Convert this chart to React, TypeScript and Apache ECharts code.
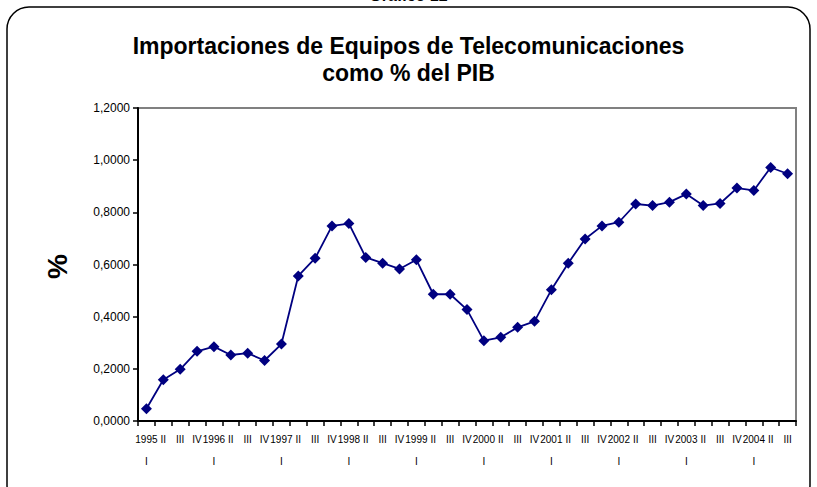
import React, { useEffect, useRef } from "react";
import * as echarts from "echarts";

const years = ["1995", "1996", "1997", "1998", "1999", "2000", "2001", "2002", "2003", "2004"];
const quarters = ["I", "II", "III", "IV"];
const categories: string[] = [];
years.forEach((y) => {
  quarters.forEach((q) => {
    if (y === "2004" && q === "IV") return;
    categories.push(q === "I" ? `${y}\nI` : q);
  });
});

const values = [
  0.047, 0.158, 0.198, 0.267,
  0.285, 0.253, 0.260, 0.232,
  0.295, 0.556, 0.624, 0.748,
  0.757, 0.627, 0.605, 0.583,
  0.618, 0.486, 0.486, 0.427,
  0.308, 0.321, 0.359, 0.382,
  0.503, 0.605, 0.698, 0.748,
  0.762, 0.832, 0.826, 0.839,
  0.870, 0.826, 0.834, 0.893,
  0.884, 0.972, 0.948,
];

const FONT = "'Liberation Sans', Arial, sans-serif";

export default function App() {
  const ref = useRef<HTMLDivElement>(null);
  useEffect(() => {
    if (!ref.current) return;
    const chart = echarts.init(ref.current, null, { renderer: "svg" });
    chart.setOption({
      animation: false,
      backgroundColor: "#ffffff",
      title: {
        text: "Importaciones de Equipos de Telecomunicaciones\ncomo % del PIB",
        left: "center",
        top: 27,
        textStyle: {
          fontFamily: FONT,
          fontWeight: "bold",
          fontSize: 23,
          lineHeight: 27,
          color: "#000",
        },
      },
      graphic: [
        {
          type: "rect",
          shape: { x: 7, y: 7, width: 803, height: 500, r: 22 },
          style: { fill: "none", stroke: "#000", lineWidth: 1.5 },
          z: 0,
        },
        {
          type: "text",
          left: "center",
          top: -13,
          style: {
            text: "Gráfico 12",
            font: `bold 16px ${FONT}`,
            fill: "#000",
          },
        },
        {
          type: "text",
          x: 43,
          y: 279,
          rotation: Math.PI / 2,
          style: {
            text: "%",
            font: `bold 28px ${FONT}`,
            fill: "#000",
          },
        },
      ],
      grid: {
        left: 138,
        right: 21,
        top: 108,
        bottom: 66,
        show: true,
        borderColor: "#808080",
        borderWidth: 2,
        backgroundColor: "#ffffff",
      },
      xAxis: {
        type: "category",
        data: categories,
        boundaryGap: true,
        axisLine: { lineStyle: { color: "#000", width: 2 } },
        axisTick: { show: true, length: 5, lineStyle: { color: "#000", width: 1.5 } },
        axisLabel: {
          interval: 0,
          color: "#000",
          fontFamily: FONT,
          fontSize: 10,
          lineHeight: 22,
          margin: 7,
          hideOverlap: false,
        },
        splitLine: { show: false },
      },
      yAxis: {
        type: "value",
        min: 0,
        max: 1.2,
        interval: 0.2,
        axisLine: { show: true, lineStyle: { color: "#000", width: 2 } },
        axisTick: { show: true, length: 5, lineStyle: { color: "#000", width: 1.5 } },
        axisLabel: {
          color: "#000",
          fontFamily: FONT,
          fontSize: 12,
          margin: 8,
          formatter: (v: number) => v.toFixed(4).replace(".", ","),
        },
        splitLine: { show: false },
      },
      series: [
        {
          type: "line",
          data: values,
          symbol: "diamond",
          symbolSize: 11,
          itemStyle: { color: "#000080" },
          lineStyle: { color: "#000080", width: 1.8 },
        },
      ],
    });
    return () => chart.dispose();
  }, []);
  return (
    <div
      ref={ref}
      style={{ position: "fixed", left: 0, top: 0, width: 817, height: 487 }}
    />
  );
}
